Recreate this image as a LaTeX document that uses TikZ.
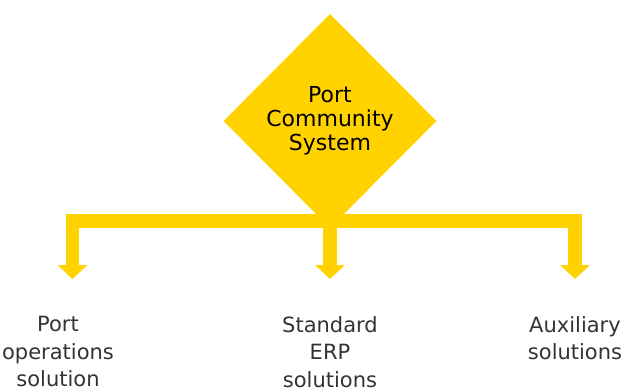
\documentclass[tikz,border=0pt]{standalone}
\usepackage{fontspec}
\setmainfont{DejaVu Sans}
\usetikzlibrary{shapes.geometric,arrows.meta,positioning}
\definecolor{hubyellow}{HTML}{FFD200}
\definecolor{labelgray}{HTML}{333333}

\begin{document}
\begin{tikzpicture}[
    x=1pt, y=-1pt,
    >={Triangle[width=30pt,length=14pt,line width=0pt]},
    hub/.style={
        diamond, fill=hubyellow,
        inner sep=0pt,
        minimum width=213pt, minimum height=214pt,
        align=center,
        font=\fontsize{22}{24}\selectfont
    },
    result/.style={
        anchor=north, inner sep=0pt,
        align=center, text=labelgray,
        font=\fontsize{21}{27.5}\selectfont
    },
    branch/.style={
        draw=hubyellow, line width=13.5pt, line join=miter
    }
]
\useasboundingbox (0,0) rectangle (628,391);

\node[hub] (pcs) at (330,121) {Port\\Community\\System};

\node[result] (ops) at (58,316) {Port\\operations\\solution};
\node[result] (erp) at (330,316) {Standard\\ERP\\solutions};
\node[result] (aux) at (575,316) {Auxiliary\\solutions};

% bus under the diamond
\coordinate (busL) at (72.5,221);
\coordinate (busR) at (575,221);
\coordinate (busM) at (pcs.south |- busL);
\coordinate (tipO) at (72.5,279);
\coordinate (tipE) at (pcs.south |- tipO);
\coordinate (tipA) at (575,279);

\draw[branch,<->] (tipO) -- (busL) -- (busR) -- (tipA);
\draw[branch,->] (busM) -- (tipE);
\end{tikzpicture}
\end{document}
